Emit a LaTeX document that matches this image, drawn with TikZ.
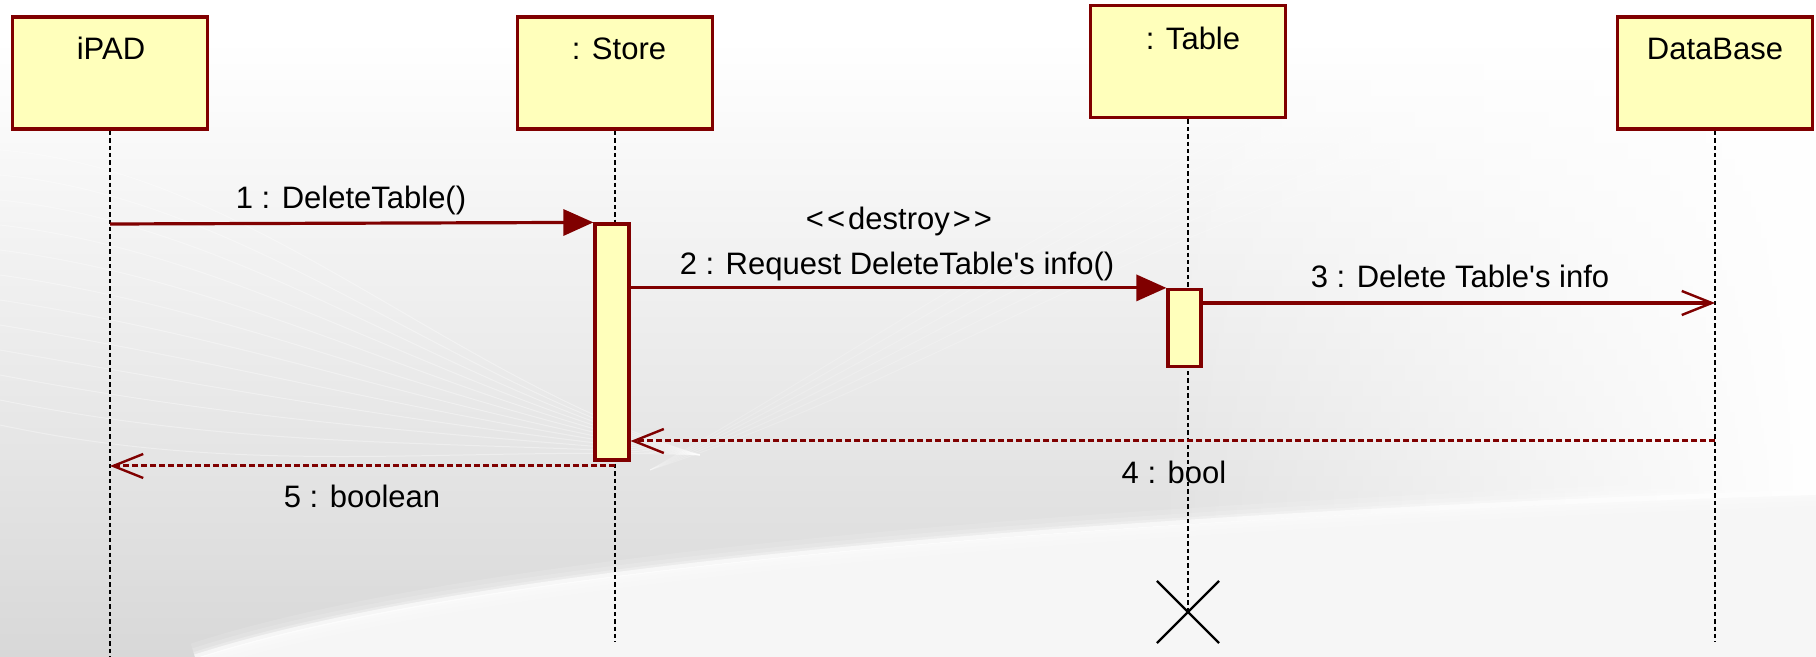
\documentclass[tikz,border=0pt]{standalone}
\usetikzlibrary{arrows.meta,fadings,shapes.misc}
\font\lbl="Liberation Sans" at 15.5pt

\definecolor{umlred}{RGB}{128,0,0}
\definecolor{umlfill}{RGB}{255,255,187}
\definecolor{bggray}{RGB}{216,216,216}

\tikzset{
  objbox/.style={draw=umlred, fill=umlfill, line width=1.8pt,
    minimum width=97.5pt, minimum height=56pt, inner sep=0pt},
  actbox/.style={draw=umlred, fill=umlfill, line width=1.6pt, inner sep=0pt},
  txt/.style={font=\lbl, text=black, inner sep=0pt, anchor=base},
  lifeline/.style={draw=black, line width=1.3pt, dash pattern=on 2.2pt off 1.5pt},
  callmsg/.style={draw=umlred, line width=1.6pt,
    -{Triangle[length=15pt, width=13pt]}},
  asyncmsg/.style={draw=umlred, line width=1.6pt,
    -{Straight Barb[length=15pt, width=12pt, line width=1.2pt]}},
  retmsg/.style={draw=umlred, line width=1.5pt, dash pattern=on 3pt off 1.5pt,
    -{Straight Barb[length=15pt, width=12pt, line width=1.2pt, sep=0pt]}},
}

\begin{document}
\begin{tikzpicture}[x=0.5pt, y=-0.5pt]
\useasboundingbox (0,0) rectangle (1816,657);

% backdrop: grey band, white swoosh, faint streaks
\fill[white] (0,0) rectangle (1816,657);
\shade[top color=white, middle color=bggray!85, bottom color=bggray]
  (0,40) -- (1816,40) -- (1816,495)
  .. controls (1200,515) and (500,560) .. (200,657) -- (0,657) -- cycle;
\fill[white, path fading=west] (1150,0) rectangle (1816,657);
\fill[gray!7] (1816,495) .. controls (1200,515) and (500,560) .. (200,657)
  -- (1816,657) -- cycle;
\foreach \w/\o in {14pt/.12, 9pt/.15, 5pt/.25, 2.5pt/.6}
  \draw[white, line width=\w, opacity=\o]
    (1816,492) .. controls (1200,513) and (500,558) .. (195,657);
\foreach \i in {0,...,11}
  \draw[white, opacity=.35, line width=.5pt]
    (0,150+25*\i) .. controls (250,170+28*\i) and (450,380+6*\i) .. (700,455);
\foreach \i in {1,...,6}
  \draw[white, opacity=.2, line width=.5pt]
    (650,470) .. controls (900,400-12*\i) and (1100,270-15*\i) .. (1400,180-20*\i);

% participants
\node[objbox] (ipad)  at (110,73)    {};
\node[objbox] (store) at (615,73)    {};
\node[objbox] (table) at (1188,61.7) {};
\node[objbox] (db)    at (1715,73)   {};

\node[txt] (ipadname)  at (111,60)  {iPAD};
\node[txt] (storename) at (619,60)  {: Store};
\node[txt] (tablename) at (1193,50) {: Table};
\node[txt] (dbname)    at (1715,60) {DataBase};

% lifeline end points
\coordinate (ipadend)  at (110,657);
\coordinate (storeend) at (615,642);
\coordinate (dbend)    at (1715,642);

% destruction mark of the table object
\node[cross out, draw=black, line width=1.1pt, minimum size=30pt, inner sep=0pt]
  (tabledel) at (1188,612) {};

\draw[lifeline] (ipad.south)  -- (ipadend);
\draw[lifeline] (store.south) -- (storeend);
\draw[lifeline] (table.south) -- (tabledel.center);
\draw[lifeline] (db.south)    -- (dbend);

% activation bars
\node[actbox, minimum width=17pt, minimum height=118pt] (storeact) at (612,342) {};
\node[actbox, minimum width=16.5pt, minimum height=38.5pt] (tableact) at (1184.5,328) {};

% message anchor points on the lifelines
\coordinate (ipadm1) at (110,224);
\coordinate (dbm3)   at (1715,303);
\coordinate (dbm4)   at (1715,441);
\coordinate (storem5) at (615,466);
\coordinate (ipadm5) at (110,466);

% messages
\draw[callmsg]  (ipadm1) -- (storeact.north west);
\draw[callmsg]  (storeact.east |- tableact.north west) -- (tableact.north west);
\draw[asyncmsg] (tableact.east |- dbm3) -- (dbm3);
\draw[retmsg]   (dbm4) -- (storeact.east |- dbm4);
\draw[retmsg]   (storem5) -- (ipadm5);

% message labels
\node[txt] (m1lbl) at (351,209)  {1 : DeleteTable()};
\node[txt] (stlbl) at (899,230)  {<\kern1.5pt<\kern1.5pt destroy\kern1.5pt>\kern1.5pt>};
\node[txt] (m2lbl) at (897,275)  {2 : Request DeleteTable's info()};
\node[txt] (m3lbl) at (1460,288) {3 : Delete Table's info};
\node[txt] (m4lbl) at (1174,484) {4 : bool};
\node[txt] (m5lbl) at (362,508)  {5 : boolean};
\end{tikzpicture}
\end{document}
